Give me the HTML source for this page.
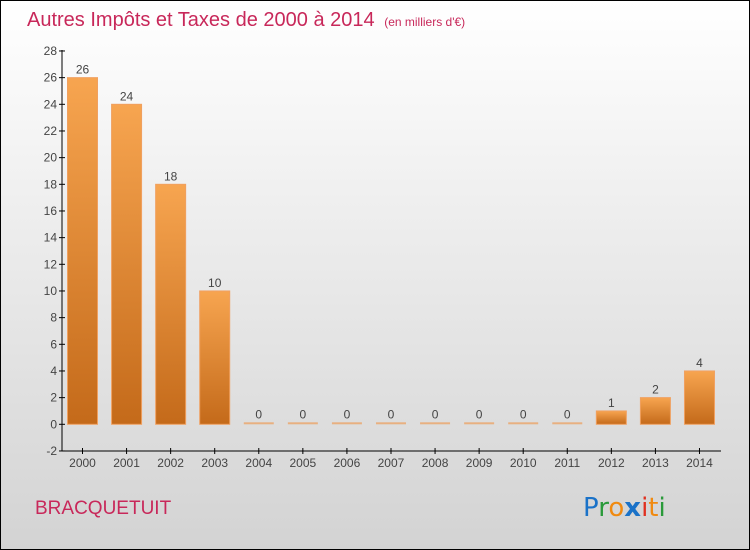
<!DOCTYPE html>
<html><head><meta charset="utf-8"><style>
body{margin:0}
#c{width:748px;height:548px;border:1px solid #000;background:linear-gradient(#fff,#d3d3d3);position:relative;font-family:"Liberation Sans",sans-serif}
</style></head><body>
<div id="c">
<svg id="s" width="748" height="548" style="position:absolute;left:0;top:0">
<text x="26" y="25" font-size="20" fill="#c8285a">Autres Impôts et Taxes de 2000 à 2014 <tspan font-size="12" dx="4">(en milliers d'€)</tspan></text>
<text x="34" y="513" font-size="19" fill="#c8285a">BRACQUETUIT</text>
<g font-size="26" font-family="'DejaVu Sans',sans-serif">
<text x="582" y="515"><tspan fill="#1a72c8">P</tspan><tspan fill="#2a9a3a">r</tspan><tspan fill="#f08a10">o</tspan><tspan fill="#1a72c8" font-weight="bold">x</tspan><tspan fill="#e03020">i</tspan><tspan fill="#f08a10">t</tspan><tspan fill="#2a9a3a">i</tspan></text>
</g>
<defs><linearGradient id="g" x1="0" y1="0" x2="0" y2="1"><stop offset="0" stop-color="#f7a550"/><stop offset="1" stop-color="#c46a1a"/></linearGradient></defs>
<g id="plot"></g>
</svg>
</div>
<script>
const categories=["2000","2001","2002","2003","2004","2005","2006","2007","2008","2009","2010","2011","2012","2013","2014"];
const values=[26,24,18,10,0,0,0,0,0,0,0,0,1,2,4];
const yTicks=[-2,0,2,4,6,8,10,12,14,16,18,20,22,24,26,28];
const ns="http://www.w3.org/2000/svg";
const g=document.getElementById("plot");
const y=v=>423.3-(v*13.333);
const x=i=>81.5+i*44.07;
function el(t,a){const e=document.createElementNS(ns,t);for(const k in a)e.setAttribute(k,a[k]);g.appendChild(e);return e;}
let ax=el("line",{x1:61,y1:49,x2:61,y2:450,stroke:"#000"});


let bx=el("line",{x1:61,y1:450,x2:720,y2:450,stroke:"#000"});


yTicks.forEach(v=>{
 el("line",{x1:58,x2:64,y1:y(v),y2:y(v),stroke:"#000"});
 const t=el("text",{x:56,y:y(v)+4,"font-size":12,fill:"#444","text-anchor":"end"});
 t.textContent=v;
 
 
});
categories.forEach((c,i)=>{
 const cx=x(i);
 el("line",{x1:cx,x2:cx,y1:447,y2:453,stroke:"#000"});
 const t=el("text",{x:cx,y:466,"font-size":12,fill:"#444","text-anchor":"middle"});
 t.textContent=c;
 
 
 const v=values[i];
 const h=Math.max(y(0)-y(v),2);
 const r=el("rect",{x:cx-15,y:y(0)-h,width:30,height:h,fill:v>0?"url(#g)":"#e8b080",stroke:v>0?"#f0a060":"none","stroke-width":1});
 
 
 const l=el("text",{x:cx,y:y(v)-4-(v>0?0:2),"font-size":12,fill:"#444","text-anchor":"middle"});
 l.textContent=v;
 
 
});
</script>
</body></html>
